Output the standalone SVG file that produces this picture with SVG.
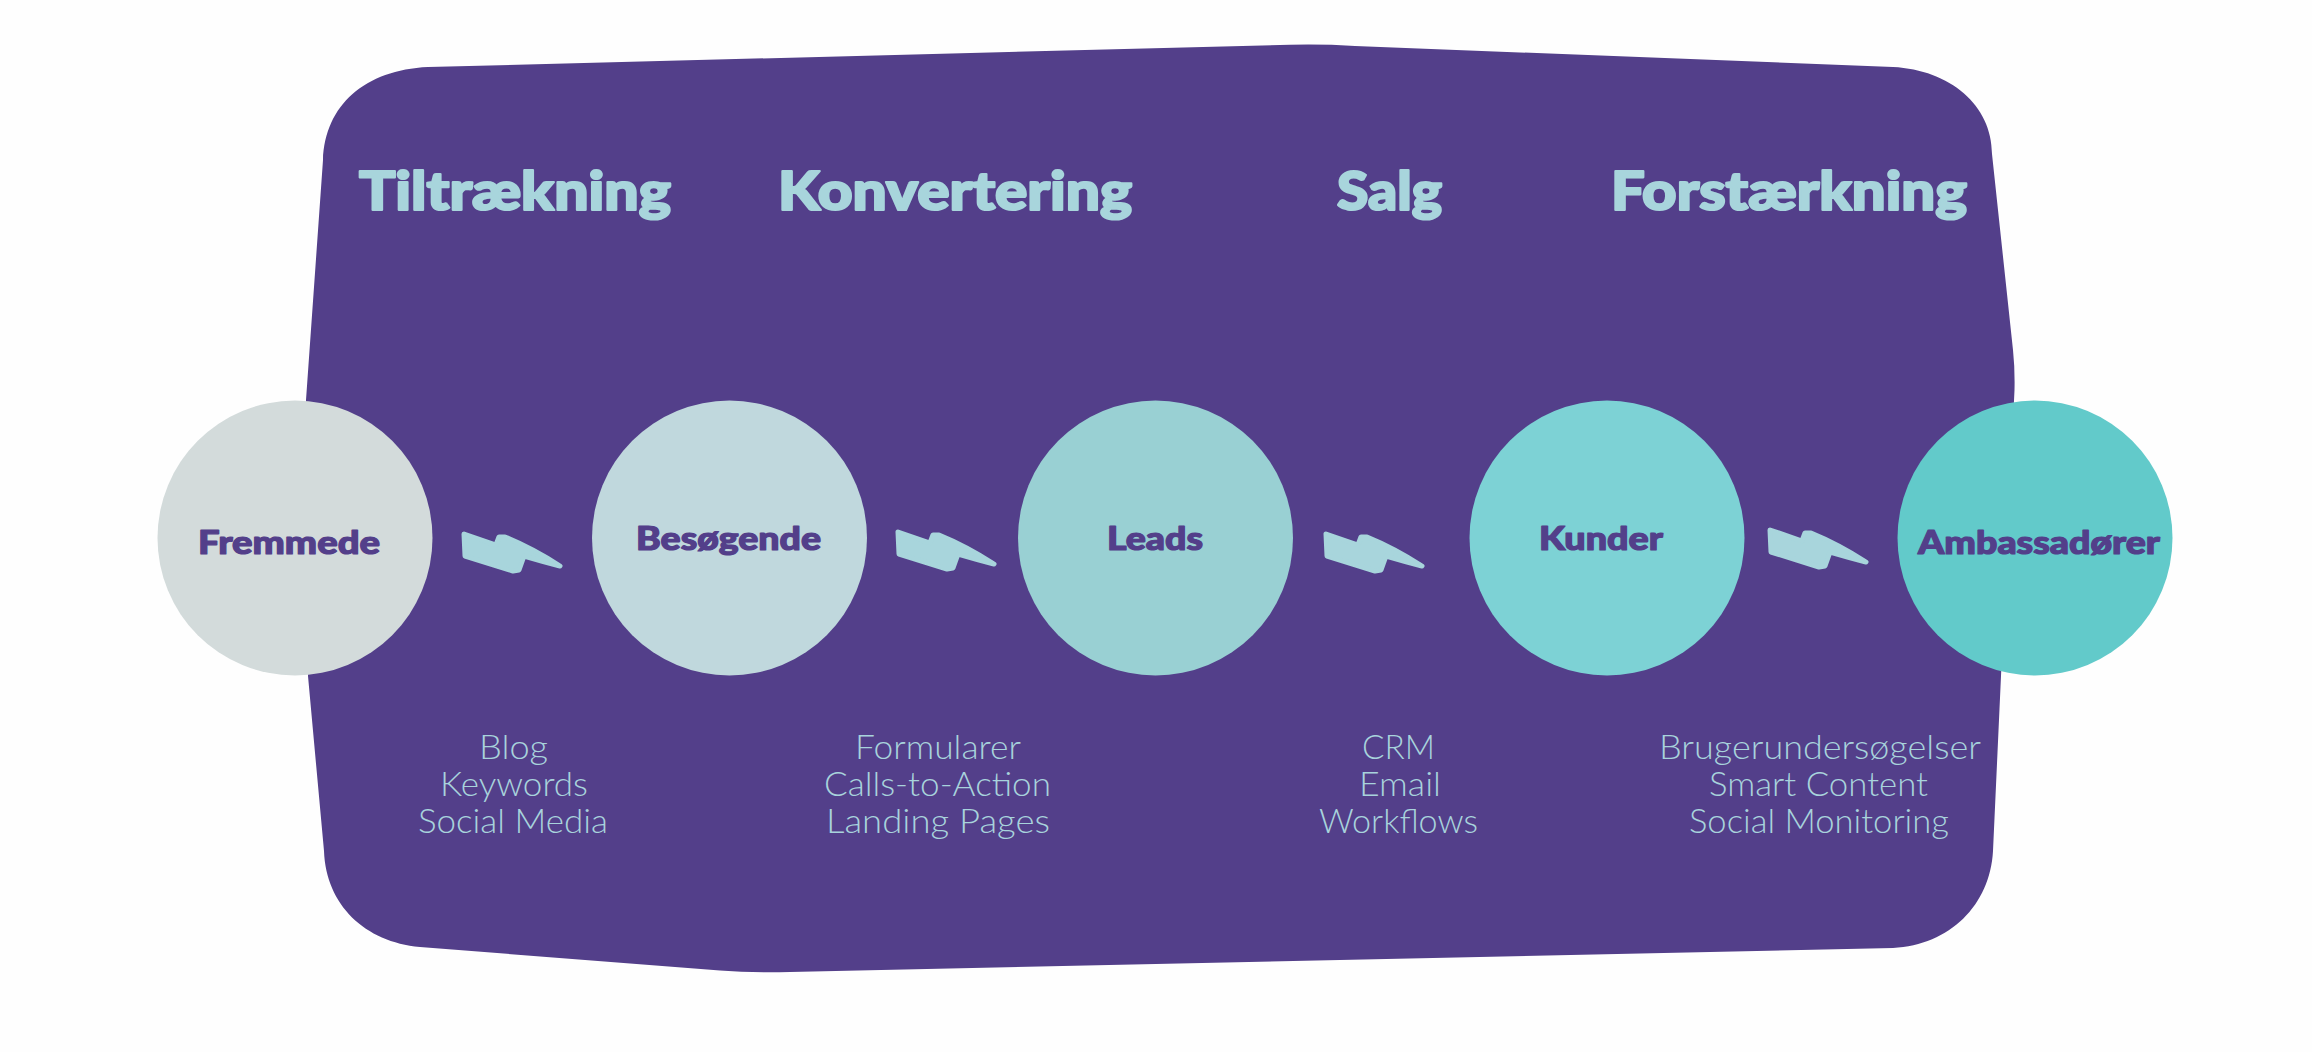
<svg xmlns="http://www.w3.org/2000/svg" width="2312" height="1052" viewBox="0 0 2312 1052">
<style>
.head{font-family:"Lato","Open Sans",sans-serif;font-weight:900;font-size:54px;fill:#a8d5dc;stroke:#a8d5dc;stroke-width:2.2px;stroke-linejoin:round}
.sub{font-family:"Lato","Open Sans",sans-serif;font-weight:300;font-size:33px;fill:#a8d3dc}
.lab{font-family:"Lato","Open Sans",sans-serif;font-weight:900;font-size:32px;fill:#533f8a;stroke:#533f8a;stroke-width:1.2px;stroke-linejoin:round}
.bolt{fill:#a8d5dc;stroke:#a8d5dc;stroke-width:5px;stroke-linejoin:round}
</style>
<defs>
<path id="b" d="M464 534L496 545L499 537L505 537Q532 548 560 566Q541 561 524 556L519 570L513 571L465 556Z"/>
</defs>
<rect width="2312" height="1052" fill="#fefefe"/>
<path id="panel" fill="#533f8a" d="M428 67L1290 44.8Q1322 44 1355 46L1893 67C1950 70 1992 105 1992 154L2013 350Q2015 369 2014.5 390L2001 676L1993 851C1990 905 1950 945 1893 948L790 972Q752 973 720 970.5L420 947C365 942 326 905 324 851L308 676L306 400L323 160C325 105 365 70 428 67Z"/>
<g id="stage-headings" class="head">
<text x="359" y="210" textLength="312" lengthAdjust="spacingAndGlyphs">Tiltrækning</text>
<text x="778" y="210" textLength="354" lengthAdjust="spacingAndGlyphs">Konvertering</text>
<text x="1337" y="210" textLength="105" lengthAdjust="spacingAndGlyphs">Salg</text>
<text x="1611" y="210" textLength="356" lengthAdjust="spacingAndGlyphs">Forstærkning</text>
</g>
<g id="node-fremmede"><circle cx="295" cy="538" r="137.5" fill="#d3dbdb"/><text class="lab" x="198" y="553.5" textLength="182" lengthAdjust="spacingAndGlyphs">Fremmede</text></g>
<g id="node-besogende"><circle cx="729.5" cy="538" r="137.5" fill="#c0d8dd"/><text class="lab" x="636" y="549.5" textLength="185" lengthAdjust="spacingAndGlyphs">Besøgende</text></g>
<g id="node-leads"><circle cx="1155.5" cy="538" r="137.5" fill="#99d0d3"/><text class="lab" x="1107" y="549.5" textLength="96" lengthAdjust="spacingAndGlyphs">Leads</text></g>
<g id="node-kunder"><circle cx="1607" cy="538" r="137.5" fill="#7dd2d5"/><text class="lab" x="1539" y="549.5" textLength="124" lengthAdjust="spacingAndGlyphs">Kunder</text></g>
<g id="node-ambassadorer"><circle cx="2035" cy="538" r="137.5" fill="#62caca"/><text class="lab" x="1918" y="553.5" textLength="242" lengthAdjust="spacingAndGlyphs">Ambassadører</text></g>
<g id="connectors" class="bolt">
<use href="#b"/>
<use href="#b" x="434" y="-2"/>
<use href="#b" x="862" y="0"/>
<use href="#b" x="1306" y="-4"/>
</g>
<g id="tools" class="sub">
<text x="479" y="759" textLength="69" lengthAdjust="spacingAndGlyphs">Blog</text>
<text x="440" y="796" textLength="148" lengthAdjust="spacingAndGlyphs">Keywords</text>
<text x="418" y="833" textLength="190" lengthAdjust="spacingAndGlyphs">Social Media</text>
<text x="855" y="759" textLength="166" lengthAdjust="spacingAndGlyphs">Formularer</text>
<text x="824" y="796" textLength="227" lengthAdjust="spacingAndGlyphs">Calls-to-Action</text>
<text x="826" y="833" textLength="224" lengthAdjust="spacingAndGlyphs">Landing Pages</text>
<text x="1362" y="759" textLength="73" lengthAdjust="spacingAndGlyphs">CRM</text>
<text x="1359" y="796" textLength="82" lengthAdjust="spacingAndGlyphs">Email</text>
<text x="1319" y="833" textLength="159" lengthAdjust="spacingAndGlyphs">Workflows</text>
<text x="1659" y="759" textLength="322" lengthAdjust="spacingAndGlyphs">Brugerundersøgelser</text>
<text x="1709" y="796" textLength="219" lengthAdjust="spacingAndGlyphs">Smart Content</text>
<text x="1689" y="833" textLength="260" lengthAdjust="spacingAndGlyphs">Social Monitoring</text>
</g>
</svg>
